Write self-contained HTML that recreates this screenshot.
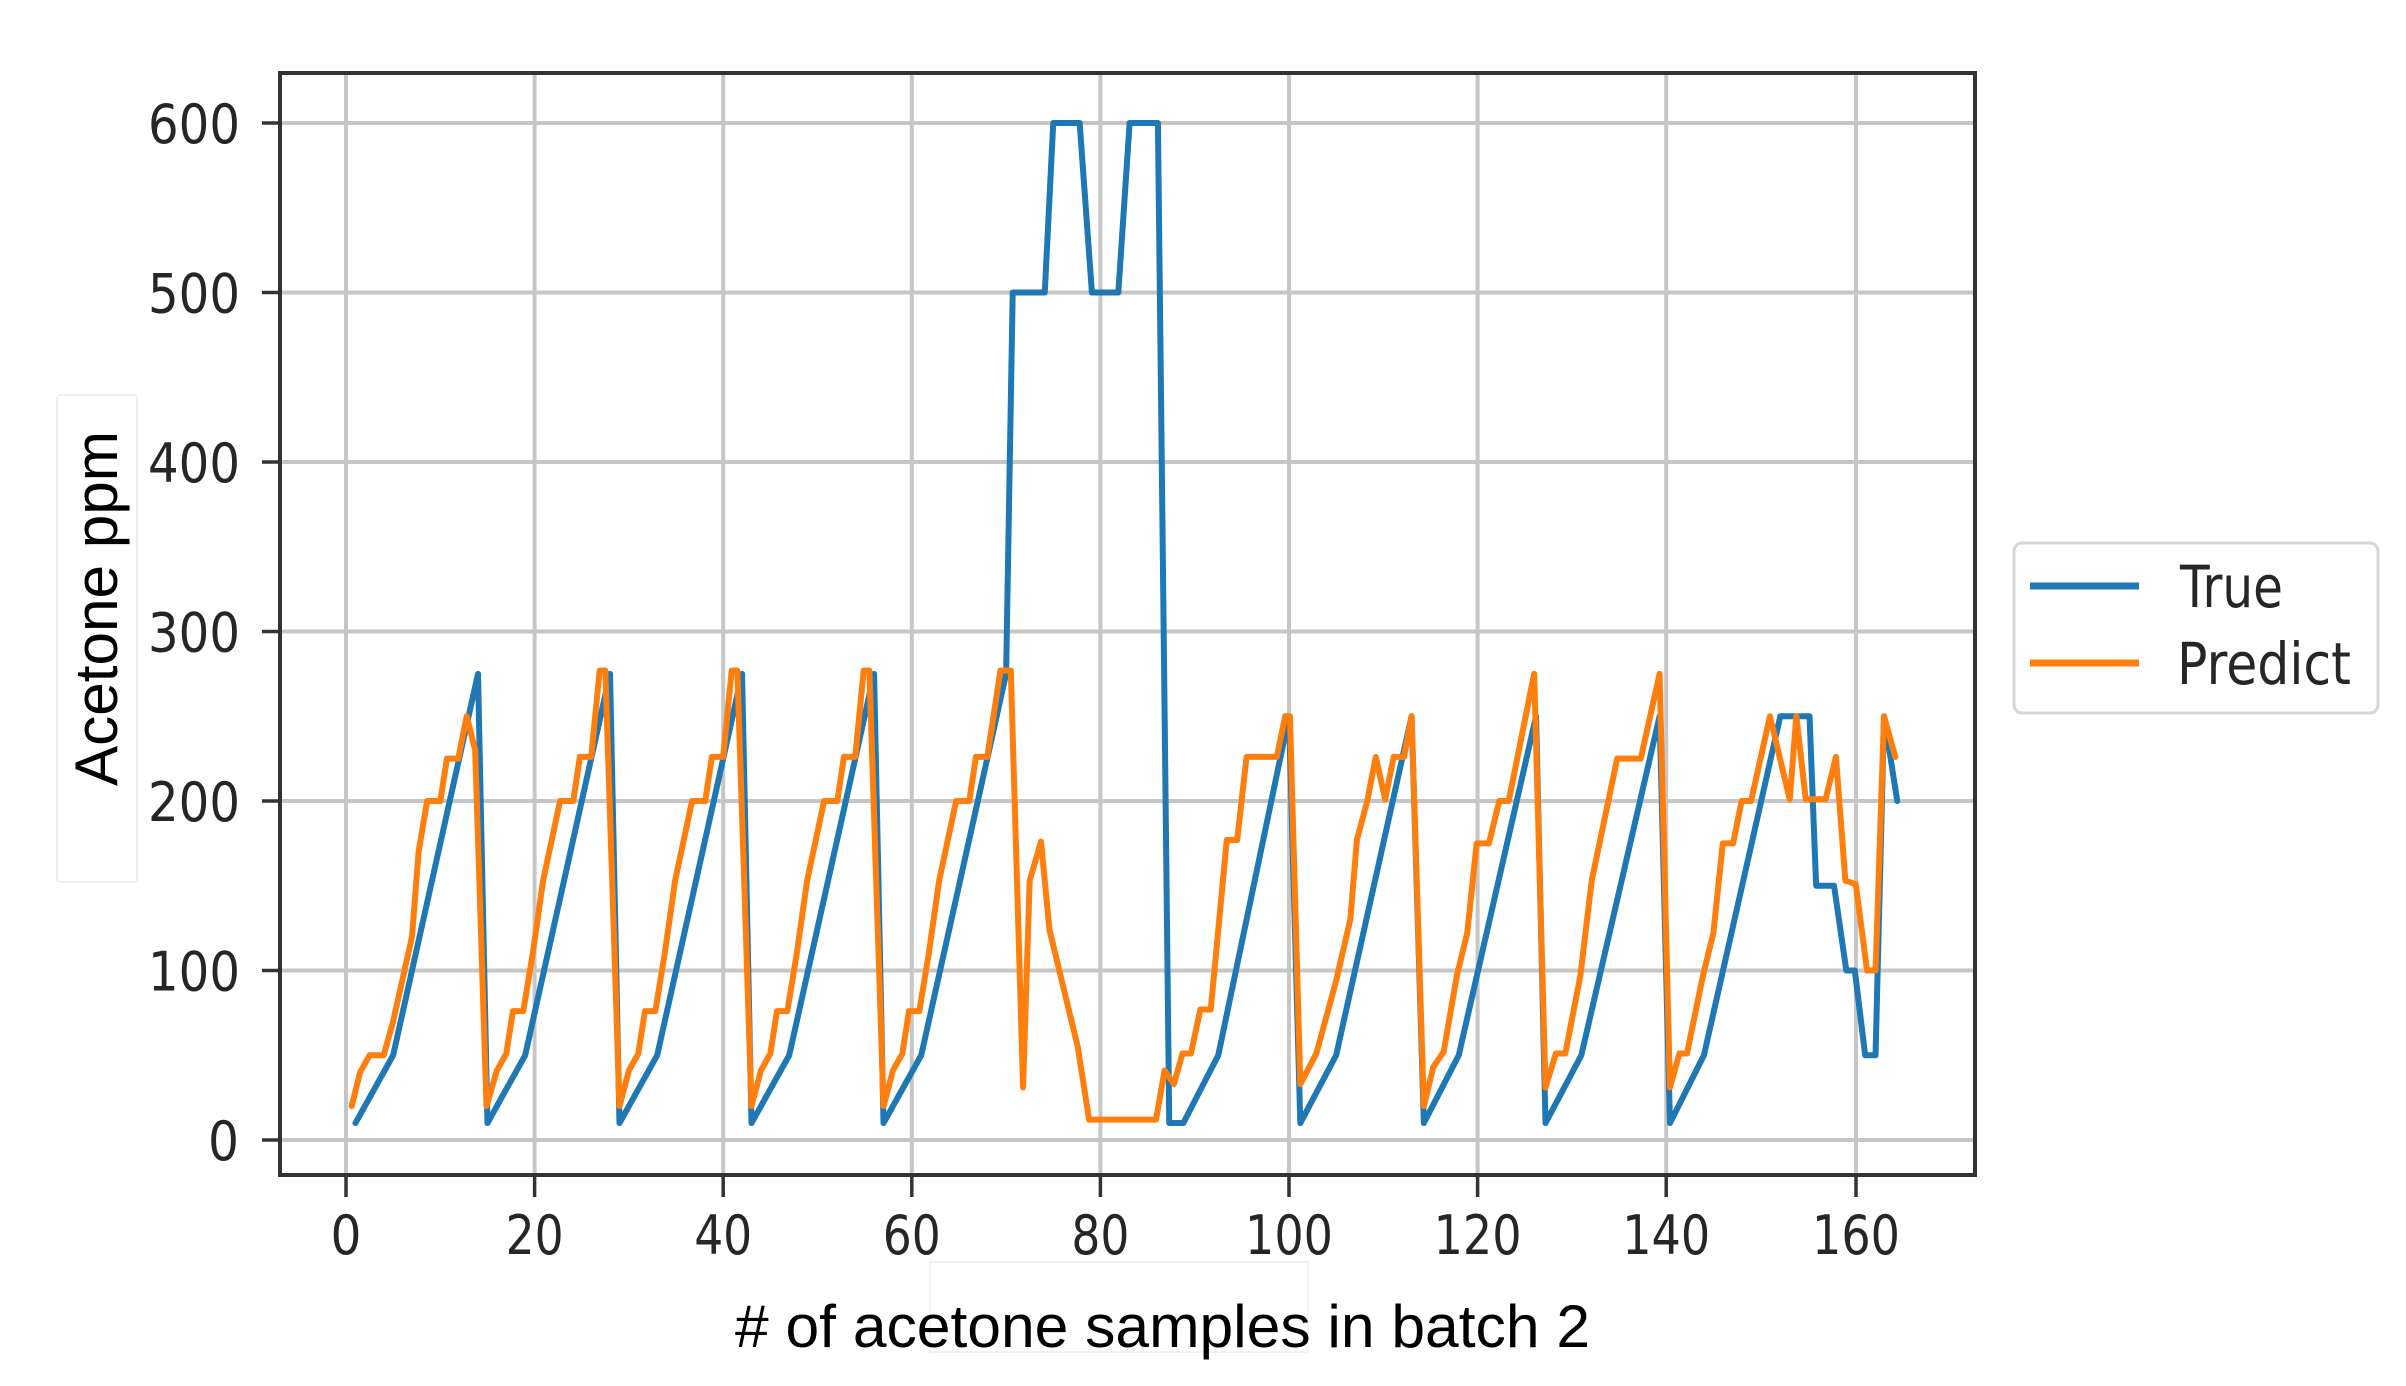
<!DOCTYPE html>
<html><head><meta charset="utf-8"><style>
html,body{margin:0;padding:0;background:#fff;}
svg{display:block;}
</style></head><body>
<svg width="2406" height="1386" viewBox="0 0 2406 1386" xmlns="http://www.w3.org/2000/svg">
<rect width="2406" height="1386" fill="#fff"/>
<rect x="57" y="395" width="80" height="487" fill="#fff" stroke="#eaeaea" stroke-width="1.5" rx="3"/>
<rect x="930" y="1262" width="378" height="90" fill="#fff" stroke="#eeeeee" stroke-width="1.5"/>
<g stroke="#c6c6c6" stroke-width="4">
<line x1="346" y1="73" x2="346" y2="1175"/>
<line x1="534.6" y1="73" x2="534.6" y2="1175"/>
<line x1="723.2" y1="73" x2="723.2" y2="1175"/>
<line x1="911.8" y1="73" x2="911.8" y2="1175"/>
<line x1="1100.4" y1="73" x2="1100.4" y2="1175"/>
<line x1="1289" y1="73" x2="1289" y2="1175"/>
<line x1="1477.6" y1="73" x2="1477.6" y2="1175"/>
<line x1="1666.2" y1="73" x2="1666.2" y2="1175"/>
<line x1="1856" y1="73" x2="1856" y2="1175"/>
<line x1="280" y1="1140" x2="1975" y2="1140"/>
<line x1="280" y1="970.5" x2="1975" y2="970.5"/>
<line x1="280" y1="801" x2="1975" y2="801"/>
<line x1="280" y1="631.5" x2="1975" y2="631.5"/>
<line x1="280" y1="462" x2="1975" y2="462"/>
<line x1="280" y1="292.5" x2="1975" y2="292.5"/>
<line x1="280" y1="123" x2="1975" y2="123"/>
</g>
<g transform="translate(346,1140) scale(9.43,-1.695)" fill="none" stroke-linejoin="round" stroke-linecap="round">
<polyline vector-effect="non-scaling-stroke" stroke="#1f77b4" stroke-width="6" points="1,10 5,50 14,275 15,10 19,50 28,275 29,10 33,50 42,275 43,10 47,50 56,275 57,10 61,50 70,275 70.7,500 74.1,500 75,600 77.8,600 79.1,500 81.9,500 83.1,600 86.1,600 87.3,10 88.8,10 92.5,50 100,250 101.2,10 105,50 113,250 114.3,10 118,50 126.2,250 127.2,10 131,50 139.3,250 140.4,10 144,50 152.1,250 155.2,250 155.9,150 157.8,150 159.1,100 160,100 161.1,50 162.2,50 163.1,250 164.5,200"/>
<polyline vector-effect="non-scaling-stroke" stroke="#ff7f0e" stroke-width="6" points="0.6,20 1.5,40 2.5,50 4,50 5,70 6,95 7,120 7.7,170 8.6,200 10,200 10.7,225 11.9,225 12.8,250 13.7,230 14.9,20 16,41 17,51 17.7,76 18.8,76 19.8,110 20.9,153 22.7,200 24.1,200 24.8,226 26,226 26.9,277 27.5,277 29,20 30,41 31,51 31.7,76 32.8,76 33.8,110 34.9,153 36.7,200 38.1,200 38.8,226 40,226 40.9,277 41.5,277 43,20 44,41 45,51 45.7,76 46.8,76 47.8,110 48.9,153 50.7,200 52.1,200 52.8,226 54,226 54.9,277 55.5,277 57,20 58,41 59,51 59.7,76 60.8,76 61.8,110 62.9,153 64.7,200 66.1,200 66.8,226 68,226 69.4,277 70.5,277 71.8,31 72.5,153 73.7,176 74.6,124 77.6,55 78.8,12 85.9,12 86.8,41 87.8,33 88.7,51 89.6,51 90.6,77 91.7,77 93.4,177 94.5,177 95.5,226 98.7,226 99.6,250 100.1,250 101.2,33 102.9,51 105,94 106.5,130 107.2,177 108.3,200 109.2,226 110.2,201 111.1,226 112.2,226 113,250 114.3,20 115.3,43 116.4,52 117.8,97 118.9,122 119.9,175 121.2,175 122.3,200 123.3,200 126,275 127.2,31 128.3,51 129.3,51 130.9,97 132.1,153 134.8,225 137.3,225 139.3,275 140.4,31 141.4,51 142.2,51 143.9,97 145,122 146,175 147.1,175 148,200 149,200 151,250 153.1,201 153.8,250 154.8,201 156.9,201 158,226 159,153 160.1,151 161.3,100 162.2,100 163.1,250 164.3,226"/>
</g>
<rect x="280" y="73" width="1695" height="1102" fill="none" stroke="#333" stroke-width="4"/>
<g stroke="#333" stroke-width="3.5">
<line x1="346" y1="1175" x2="346" y2="1197"/>
<line x1="534.6" y1="1175" x2="534.6" y2="1197"/>
<line x1="723.2" y1="1175" x2="723.2" y2="1197"/>
<line x1="911.8" y1="1175" x2="911.8" y2="1197"/>
<line x1="1100.4" y1="1175" x2="1100.4" y2="1197"/>
<line x1="1289" y1="1175" x2="1289" y2="1197"/>
<line x1="1477.6" y1="1175" x2="1477.6" y2="1197"/>
<line x1="1666.2" y1="1175" x2="1666.2" y2="1197"/>
<line x1="1856" y1="1175" x2="1856" y2="1197"/>
<line x1="262" y1="1140" x2="280" y2="1140"/>
<line x1="262" y1="970.5" x2="280" y2="970.5"/>
<line x1="262" y1="801" x2="280" y2="801"/>
<line x1="262" y1="631.5" x2="280" y2="631.5"/>
<line x1="262" y1="462" x2="280" y2="462"/>
<line x1="262" y1="292.5" x2="280" y2="292.5"/>
<line x1="262" y1="123" x2="280" y2="123"/>
</g>
<g font-family="DejaVu Sans, Liberation Sans, sans-serif" font-size="54" fill="#262626">
<text x="346" y="1254" text-anchor="middle" textLength="31" lengthAdjust="spacingAndGlyphs">0</text>
<text x="534.6" y="1254" text-anchor="middle" textLength="58" lengthAdjust="spacingAndGlyphs">20</text>
<text x="723.2" y="1254" text-anchor="middle" textLength="58" lengthAdjust="spacingAndGlyphs">40</text>
<text x="911.8" y="1254" text-anchor="middle" textLength="58" lengthAdjust="spacingAndGlyphs">60</text>
<text x="1100.4" y="1254" text-anchor="middle" textLength="58" lengthAdjust="spacingAndGlyphs">80</text>
<text x="1289" y="1254" text-anchor="middle" textLength="88" lengthAdjust="spacingAndGlyphs">100</text>
<text x="1477.6" y="1254" text-anchor="middle" textLength="88" lengthAdjust="spacingAndGlyphs">120</text>
<text x="1666.2" y="1254" text-anchor="middle" textLength="88" lengthAdjust="spacingAndGlyphs">140</text>
<text x="1856" y="1254" text-anchor="middle" textLength="88" lengthAdjust="spacingAndGlyphs">160</text>
<text x="208" y="1160" textLength="31" lengthAdjust="spacingAndGlyphs">0</text>
<text x="148" y="990.5" textLength="92" lengthAdjust="spacingAndGlyphs">100</text>
<text x="148" y="821" textLength="92" lengthAdjust="spacingAndGlyphs">200</text>
<text x="148" y="651.5" textLength="92" lengthAdjust="spacingAndGlyphs">300</text>
<text x="148" y="482" textLength="92" lengthAdjust="spacingAndGlyphs">400</text>
<text x="148" y="312.5" textLength="92" lengthAdjust="spacingAndGlyphs">500</text>
<text x="148" y="143" textLength="92" lengthAdjust="spacingAndGlyphs">600</text>
</g>
<text x="735" y="1347" font-family="Liberation Sans, Arial, sans-serif" font-size="60" fill="#000" textLength="855" lengthAdjust="spacingAndGlyphs"># of acetone samples in batch 2</text>
<text transform="translate(117,786) rotate(-90)" font-family="Liberation Sans, Arial, sans-serif" font-size="60" fill="#000" textLength="355" lengthAdjust="spacingAndGlyphs">Acetone ppm</text>
<rect x="2014" y="543" width="364" height="170" rx="8" fill="#fff" stroke="#d6d6d6" stroke-width="3"/>
<line x1="2030" y1="586" x2="2139" y2="586" stroke="#1f77b4" stroke-width="7"/>
<line x1="2030" y1="663" x2="2139" y2="663" stroke="#ff7f0e" stroke-width="7"/>
<g font-family="DejaVu Sans, Liberation Sans, sans-serif" font-size="58" fill="#262626">
<text x="2180" y="607" textLength="103" lengthAdjust="spacingAndGlyphs">True</text>
<text x="2177" y="684" textLength="174" lengthAdjust="spacingAndGlyphs">Predict</text>
</g>
</svg>
</body></html>
